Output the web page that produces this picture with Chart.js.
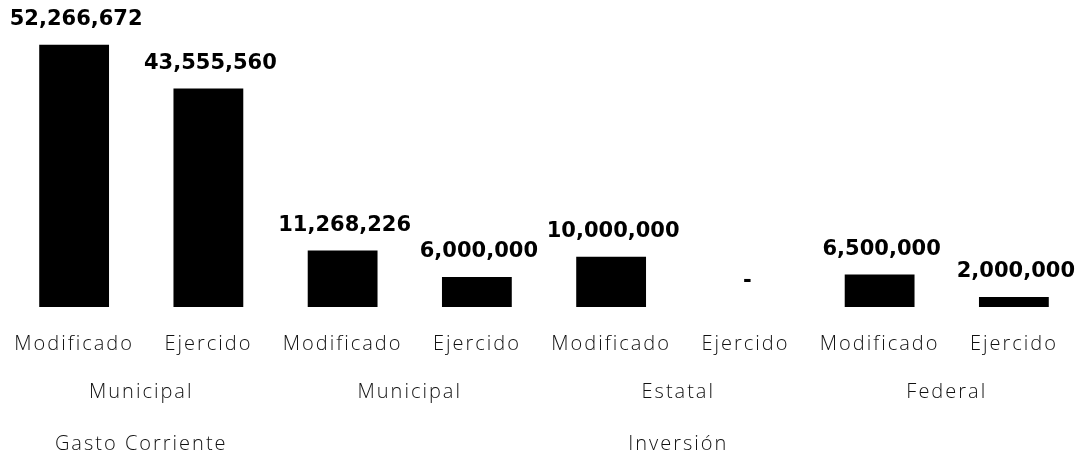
<!DOCTYPE html>
<html>
<head>
<meta charset="utf-8">
<script src="https://cdn.jsdelivr.net/npm/chart.js@4"></script>
<style>
    html, body { margin: 0; padding: 0; background: #fff; }
    #wrap { width: 1090px; height: 457px; }
</style>
</head>
<body>
<div id="wrap"><canvas id="gastoChart"></canvas></div>
<script>
// datos
var etiquetas = ['Modificado', 'Ejercido', 'Modificado', 'Ejercido', 'Modificado', 'Ejercido', 'Modificado', 'Ejercido'];
var montos = [52266672, 43555560, 11268226, 6000000, 10000000, 0, 6500000, 2000000];
var fuentes = ['Municipal', 'Municipal', 'Estatal', 'Federal'];
var fuentesSpan = [2, 2, 2, 2];
var capitulos = ['Gasto Corriente', 'Inversión'];
var capitulosSpan = [2, 6];

function fmt(v) {
    return v === 0 ? '-' : v.toLocaleString('en-US');
}

// etiquetas de valor y ejes de varios niveles
var etiquetasPlugin = {
    id: 'etiquetas',
    afterDatasetsDraw: function (chart) {
        var ctx = chart.ctx;
        var meta = chart.getDatasetMeta(0);
        var x = chart.scales.x;
        var base = chart.chartArea.bottom;

        ctx.save();
        ctx.fillStyle = '#000';
        ctx.textAlign = 'center';
        ctx.textBaseline = 'middle';

        ctx.font = 'bold 21px "DejaVu Sans"';
        ctx.letterSpacing = '0px';
        meta.data.forEach(function (bar, i) {
            ctx.fillText(fmt(montos[i]), bar.x + 2, bar.y - 25);
        });

        ctx.font = '300 20px "Open Sans"';
        ctx.letterSpacing = '2px';
        ctx.fillStyle = '#111';
        etiquetas.forEach(function (t, i) {
            ctx.fillText(t, x.getPixelForValue(i), base + 37);
        });

        function grupos(nombres, spans, y) {
            var idx = 0;
            nombres.forEach(function (t, k) {
                var a = x.getPixelForValue(idx);
                var b = x.getPixelForValue(idx + spans[k] - 1);
                ctx.fillText(t, (a + b) / 2, y);
                idx += spans[k];
            });
        }
        grupos(fuentes, fuentesSpan, base + 85);
        grupos(capitulos, capitulosSpan, base + 137);
        ctx.restore();
    }
};

var ctx = document.getElementById('gastoChart').getContext('2d');
new Chart(ctx, {
    type: 'bar',
    data: {
        labels: etiquetas,
        datasets: [{
            data: montos,
            backgroundColor: '#000',
            borderWidth: 0,
            categoryPercentage: 1,
            barPercentage: 0.52
        }]
    },
    options: {
        responsive: true,
        maintainAspectRatio: false,
        animation: false,
        layout: {padding: {top: 6, left: 7, right: 9, bottom: 150}},
        scales: {
            x: {display: false},
            y: {display: false, min: 0, max: 60000000}
        },
        plugins: {legend: {display: false}, tooltip: {enabled: false}}
    },
    plugins: [etiquetasPlugin]
});
</script>
</body>
</html>
